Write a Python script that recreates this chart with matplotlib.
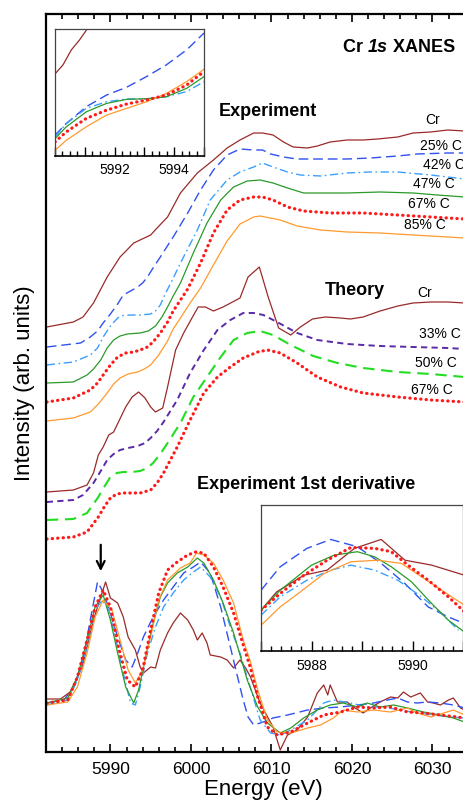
import numpy as np
import matplotlib
matplotlib.use("Agg")
import matplotlib.pyplot as plt
from matplotlib.ticker import MultipleLocator

plt.rcParams['font.family'] = ['Liberation Sans', 'DejaVu Sans']

# ---------------- data ----------------
# XANES, experiment (offset stack)
exp_cr_e = [5982.1, 5985.4, 5986.6, 5987.9, 5989.6, 5991.2, 5992.9, 5995.0, 5995.8, 5997.1, 5998.7, 6000.8,
            6002.8, 6004.5, 6006.1, 6007.8, 6008.9, 6010.2, 6011.5, 6012.7, 6014.5, 6015.7, 6017.3, 6019.4,
            6021.4, 6023.2, 6025.7, 6027.6, 6029.8, 6031.9, 6034.0]
exp_cr_i = [4.25, 4.30, 4.35, 4.49, 4.75, 4.95, 5.09, 5.17, 5.24, 5.35, 5.59, 5.79, 5.92, 6.04, 6.12, 6.19,
            6.19, 6.17, 6.10, 6.05, 6.04, 6.06, 6.10, 6.12, 6.12, 6.13, 6.15, 6.19, 6.20, 6.22, 6.21]

exp_25_e = [5982.1, 5986.3, 5987.5, 5988.4, 5989.1, 5990.0, 5990.9, 5991.6, 5992.5, 5993.4, 5994.0, 5994.6,
            5995.3, 5996.2, 5997.8, 5999.6, 6001.2, 6002.8, 6004.5, 6006.1, 6007.8, 6008.9, 6009.9, 6011.5,
            6013.2, 6015.7, 6019.4, 6022.3, 6025.7, 6028.1, 6031.9, 6034.0]
exp_25_i = [4.05, 4.09, 4.15, 4.21, 4.29, 4.38, 4.48, 4.57, 4.61, 4.65, 4.69, 4.75, 4.84, 4.95, 5.15, 5.39,
            5.62, 5.82, 5.97, 6.03, 6.02, 6.02, 5.98, 5.95, 5.93, 5.93, 5.93, 5.94, 5.96, 5.98, 5.99, 5.99]

exp_42_e = [5982.1, 5985.4, 5987.5, 5988.4, 5989.1, 5990.0, 5990.9, 5991.6, 5992.5, 5993.7, 5995.0, 5995.6,
            5996.2, 5996.8, 5997.7, 5998.7, 6000.8, 6002.4, 6004.5, 6006.1, 6007.8, 6008.9, 6010.2, 6012.0,
            6013.6, 6016.1, 6019.4, 6022.3, 6025.7, 6029.8, 6034.0]
exp_42_i = [3.87, 3.90, 3.97, 4.04, 4.15, 4.26, 4.34, 4.365, 4.37, 4.37, 4.38, 4.41, 4.47, 4.58, 4.72, 4.89,
            5.22, 5.52, 5.72, 5.80, 5.85, 5.89, 5.85, 5.80, 5.77, 5.76, 5.79, 5.80, 5.80, 5.77, 5.73]

exp_47_e = [5982.1, 5985.4, 5987.1, 5987.9, 5988.8, 5989.6, 5990.4, 5991.2, 5992.1, 5993.7, 5994.7, 5995.6,
            5996.4, 5997.1, 5997.8, 5998.7, 6000.3, 6002.0, 6003.7, 6005.3, 6007.0, 6008.6, 6010.2, 6012.0,
            6014.0, 6016.5, 6019.4, 6023.5, 6027.6, 6030.6, 6034.0]
exp_47_i = [3.69, 3.70, 3.77, 3.83, 3.92, 4.04, 4.12, 4.16, 4.18, 4.19, 4.21, 4.26, 4.35, 4.45, 4.56, 4.69,
            4.99, 5.29, 5.52, 5.65, 5.71, 5.72, 5.69, 5.64, 5.59, 5.59, 5.59, 5.60, 5.59, 5.57, 5.55]

exp_67_e = [5982.1, 5985.4, 5987.5, 5988.4, 5989.1, 5990.0, 5990.9, 5991.9, 5992.9, 5993.7, 5994.6, 5995.3,
            5996.2, 5997.1, 5997.8, 5998.7, 5999.6, 6001.2, 6002.8, 6004.5, 6006.1, 6007.8, 6008.9, 6010.2,
            6012.0, 6014.0, 6017.3, 6021.4, 6025.7, 6029.8, 6034.0]
exp_67_i = [3.50, 3.54, 3.62, 3.69, 3.77, 3.87, 3.95, 3.99, 4.00, 4.02, 4.05, 4.10, 4.19, 4.30, 4.41, 4.52,
            4.63, 4.89, 5.19, 5.42, 5.52, 5.55, 5.55, 5.52, 5.45, 5.41, 5.39, 5.39, 5.37, 5.35, 5.33]

exp_85_e = [5982.1, 5985.4, 5987.5, 5988.5, 5989.6, 5990.4, 5991.2, 5992.2, 5993.4, 5994.2, 5995.0, 5996.0,
            5997.1, 5997.8, 5998.7, 5999.9, 6001.2, 6002.8, 6004.5, 6006.1, 6007.8, 6008.6, 6011.1, 6013.2,
            6016.1, 6019.4, 6023.5, 6027.6, 6031.9, 6034.0]
exp_85_i = [3.31, 3.34, 3.40, 3.48, 3.59, 3.68, 3.74, 3.78, 3.80, 3.83, 3.87, 3.97, 4.11, 4.23, 4.34, 4.49,
            4.64, 4.87, 5.11, 5.28, 5.35, 5.36, 5.32, 5.26, 5.22, 5.20, 5.19, 5.17, 5.15, 5.14]

# XANES, theory
th_cr_e = [5982.1, 5985.4, 5987.1, 5987.9, 5988.5, 5989.1, 5989.8, 5990.4, 5991.0, 5991.9, 5992.7, 5993.5,
           5994.3, 5995.0, 5995.6, 5996.5, 5997.1, 5998.1, 5999.1, 6000.2, 6000.9, 6001.8, 6002.8, 6004.0,
           6006.1, 6007.1, 6008.5, 6009.6, 6010.9, 6012.4, 6013.6, 6015.1, 6016.7, 6018.6, 6019.8, 6021.4,
           6023.5, 6025.7, 6027.6, 6029.8, 6031.9, 6034.0]
th_cr_i = [2.60, 2.62, 2.67, 2.79, 2.97, 3.05, 3.17, 3.20, 3.30, 3.45, 3.55, 3.60, 3.54, 3.45, 3.40, 3.44,
           3.65, 4.02, 4.19, 4.35, 4.45, 4.45, 4.41, 4.45, 4.54, 4.75, 4.85, 4.55, 4.24, 4.17, 4.25, 4.33,
           4.35, 4.34, 4.33, 4.35, 4.41, 4.46, 4.49, 4.50, 4.50, 4.49]

th_33_e = [5982.1, 5985.4, 5986.6, 5987.9, 5988.8, 5989.6, 5990.4, 5991.2, 5992.2, 5993.4, 5994.3, 5995.0,
           5995.8, 5996.6, 5998.3, 5999.9, 6001.6, 6003.3, 6004.9, 6006.5, 6007.8, 6009.0, 6010.7, 6013.2,
           6015.7, 6019.4, 6023.5, 6027.6, 6031.9, 6034.0]
th_33_i = [2.50, 2.52, 2.57, 2.69, 2.81, 2.92, 2.98, 3.02, 3.04, 3.06, 3.09, 3.14, 3.21, 3.30, 3.52, 3.79,
           4.02, 4.22, 4.32, 4.39, 4.39, 4.37, 4.30, 4.19, 4.12, 4.08, 4.06, 4.05, 4.04, 4.03]

th_50_e = [5982.1, 5985.4, 5987.1, 5988.5, 5989.3, 5990.0, 5990.8, 5991.6, 5992.6, 5993.7, 5994.6, 5995.3,
           5996.2, 5997.1, 5998.7, 6000.3, 6002.0, 6003.7, 6005.3, 6007.0, 6008.6, 6010.2, 6012.4, 6015.2,
           6018.2, 6021.4, 6025.7, 6029.8, 6034.0]
th_50_i = [2.32, 2.33, 2.39, 2.55, 2.66, 2.75, 2.79, 2.80, 2.80, 2.81, 2.84, 2.89, 2.98, 3.09, 3.29, 3.55,
           3.75, 3.95, 4.12, 4.19, 4.21, 4.17, 4.07, 3.96, 3.89, 3.84, 3.80, 3.78, 3.75]

th_67_e = [5982.1, 5985.4, 5987.1, 5988.5, 5989.3, 5990.0, 5990.8, 5991.6, 5992.6, 5993.7, 5995.0, 5995.8,
           5996.6, 5998.3, 5999.9, 6001.6, 6003.3, 6004.9, 6006.5, 6008.3, 6009.5, 6011.1, 6013.2, 6015.7,
           6018.6, 6021.4, 6025.7, 6029.8, 6034.0]
th_67_i = [2.13, 2.15, 2.20, 2.35, 2.46, 2.54, 2.58, 2.59, 2.59, 2.59, 2.62, 2.69, 2.79, 3.05, 3.32, 3.59,
           3.75, 3.85, 3.94, 4.00, 4.02, 3.99, 3.89, 3.75, 3.65, 3.59, 3.55, 3.52, 3.50]

# first derivative, experiment
d_cr_e = [5982.1, 5983.8, 5985.0, 5985.9, 5986.5, 5987.1, 5987.9, 5988.8, 5989.4, 5990.0, 5990.9, 5991.6,
          5992.2, 5993.1, 5993.7, 5994.1, 5995.0, 5995.6, 5996.2, 5997.1, 5997.8, 5998.7, 5999.6, 6000.3,
          6000.8, 6001.4, 6002.0, 6002.4, 6003.7, 6004.5, 6005.3, 6006.1, 6006.8, 6007.4, 6008.6, 6010.2,
          6011.1, 6012.0, 6013.2, 6014.5, 6015.7, 6016.5, 6017.0, 6017.3, 6018.2, 6019.4, 6020.2, 6021.4,
          6022.3, 6023.5, 6024.8, 6025.7, 6026.4, 6027.3, 6028.5, 6029.4, 6030.1, 6031.0, 6032.0, 6032.6,
          6033.5, 6034.0]
d_cr_i = [0.53, 0.53, 0.60, 0.75, 0.85, 1.05, 1.32, 1.55, 1.70, 1.54, 1.49, 1.35, 1.15, 1.02, 0.85, 0.79,
          0.85, 0.84, 1.02, 1.19, 1.29, 1.39, 1.32, 1.22, 1.12, 1.19, 1.09, 0.97, 0.95, 0.92, 0.84, 0.92,
          0.84, 0.75, 0.49, 0.25, 0.02, 0.17, 0.22, 0.35, 0.59, 0.67, 0.57, 0.67, 0.50, 0.50, 0.45, 0.39,
          0.44, 0.50, 0.55, 0.54, 0.60, 0.55, 0.59, 0.50, 0.49, 0.47, 0.52, 0.54, 0.44, 0.42]

d_25_e = [5982.1, 5984.2, 5985.4, 5986.6, 5987.5, 5988.4, 5989.1, 5990.0, 5990.9, 5991.9, 5992.7, 5993.4,
          5994.1, 5995.3, 5996.6, 5997.8, 5999.1, 6000.3, 6001.2, 6002.4, 6003.7, 6004.9, 6006.1, 6006.5,
          6007.1, 6007.8, 6009.0, 6010.2, 6012.0, 6014.5, 6016.5, 6018.6, 6020.7, 6022.7, 6024.4, 6025.7,
          6026.9, 6028.1, 6029.4, 6031.0, 6032.6, 6034.0]
d_25_i = [0.49, 0.52, 0.64, 0.92, 1.32, 1.70, 1.60, 1.39, 1.15, 0.92, 0.85, 0.99, 1.15, 1.35, 1.52, 1.65,
          1.79, 1.85, 1.90, 1.79, 1.45, 1.05, 0.65, 0.52, 0.35, 0.27, 0.30, 0.34, 0.37, 0.42, 0.44, 0.45,
          0.47, 0.49, 0.52, 0.54, 0.50, 0.49, 0.50, 0.49, 0.47, 0.44]

d_42_e = [5982.1, 5984.7, 5985.9, 5987.1, 5988.1, 5989.0, 5989.8, 5990.6, 5991.6, 5992.5, 5993.1, 5993.7,
          5994.6, 5995.6, 5996.6, 5997.8, 5999.1, 6000.3, 6001.2, 6002.4, 6003.7, 6004.9, 6006.1, 6007.4,
          6008.6, 6009.9, 6011.1, 6012.4, 6014.5, 6016.5, 6017.7, 6019.8, 6021.9, 6023.9, 6026.0, 6028.1,
          6030.1, 6032.2, 6034.0]
d_42_i = [0.47, 0.52, 0.72, 1.05, 1.42, 1.52, 1.42, 1.15, 0.79, 0.49, 0.47, 0.65, 0.99, 1.25, 1.45, 1.59,
          1.72, 1.80, 1.85, 1.75, 1.55, 1.25, 0.99, 0.64, 0.32, 0.19, 0.17, 0.22, 0.32, 0.49, 0.52, 0.49,
          0.45, 0.45, 0.42, 0.39, 0.37, 0.35, 0.34]

d_47_e = [5982.1, 5984.7, 5985.9, 5987.1, 5988.1, 5989.1, 5990.0, 5990.9, 5991.9, 5992.9, 5993.5, 5994.3,
          5995.2, 5996.2, 5997.1, 5998.3, 5999.6, 6000.8, 6001.6, 6002.8, 6004.0, 6005.3, 6006.1, 6007.0,
          6008.3, 6009.5, 6011.1, 6012.4, 6014.0, 6015.7, 6017.3, 6018.9, 6020.7, 6021.9, 6023.5, 6025.2,
          6026.9, 6028.9, 6031.0, 6032.6, 6034.0]
d_47_i = [0.49, 0.54, 0.75, 1.12, 1.45, 1.57, 1.32, 0.99, 0.65, 0.49, 0.62, 0.92, 1.25, 1.55, 1.69, 1.79,
          1.85, 1.94, 1.89, 1.72, 1.49, 1.19, 0.97, 0.72, 0.45, 0.29, 0.19, 0.24, 0.34, 0.42, 0.47, 0.49,
          0.45, 0.49, 0.45, 0.47, 0.44, 0.40, 0.37, 0.34, 0.30]

d_67_e = [5982.1, 5984.7, 5985.9, 5987.1, 5988.1, 5989.1, 5990.0, 5991.0, 5992.1, 5993.1, 5994.0, 5995.0,
          5996.0, 5997.1, 5998.3, 5999.6, 6000.6, 6001.6, 6002.8, 6004.0, 6005.3, 6006.5, 6007.4, 6008.3,
          6009.5, 6010.7, 6012.4, 6014.5, 6016.5, 6018.6, 6020.7, 6022.7, 6024.8, 6026.9, 6028.9, 6031.0,
          6033.1, 6034.0]
d_67_i = [0.49, 0.52, 0.75, 1.12, 1.45, 1.62, 1.45, 1.05, 0.72, 0.65, 0.82, 1.22, 1.59, 1.82, 1.90, 1.97,
          2.00, 1.99, 1.85, 1.65, 1.39, 1.07, 0.84, 0.55, 0.25, 0.17, 0.20, 0.29, 0.37, 0.40, 0.45, 0.44,
          0.45, 0.40, 0.39, 0.37, 0.35, 0.34]

d_85_e = [5982.1, 5984.7, 5985.9, 5987.1, 5988.1, 5989.1, 5990.2, 5991.2, 5992.2, 5993.1, 5994.0, 5995.0,
          5996.0, 5997.1, 5998.7, 5999.9, 6000.7, 6001.6, 6002.8, 6004.0, 6005.3, 6006.5, 6007.4, 6008.3,
          6009.5, 6010.7, 6012.4, 6014.5, 6016.1, 6017.7, 6018.9, 6020.7, 6022.7, 6024.8, 6026.9, 6028.1,
          6029.8, 6031.4, 6032.6, 6034.0]
d_85_i = [0.47, 0.50, 0.65, 0.99, 1.35, 1.52, 1.42, 1.12, 0.82, 0.69, 0.82, 1.15, 1.52, 1.72, 1.84, 1.89,
          1.99, 1.97, 1.89, 1.72, 1.49, 1.12, 0.90, 0.62, 0.32, 0.20, 0.19, 0.24, 0.27, 0.34, 0.42, 0.40,
          0.42, 0.40, 0.44, 0.39, 0.35, 0.39, 0.42, 0.37]

# inset 1: pre-edge XANES (normalised, no offset)
in1_e = [5990.0, 5990.38, 5991.05, 5991.73, 5992.4, 5993.07, 5993.74, 5994.42, 5995.0]
in1_cr_e = [5990.0, 5990.27, 5990.55, 5990.83, 5991.08]
in1_cr = [0.646, 0.718, 0.836, 0.916, 1.0]
in1_25 = [0.164, 0.256, 0.388, 0.480, 0.541, 0.625, 0.718, 0.836, 0.968]
in1_42 = [0.150, 0.256, 0.375, 0.427, 0.449, 0.449, 0.467, 0.507, 0.586]
in1_47 = [0.137, 0.230, 0.348, 0.414, 0.446, 0.451, 0.467, 0.533, 0.625]
in1_67 = [0.111, 0.190, 0.296, 0.361, 0.409, 0.441, 0.480, 0.559, 0.665]
in1_85 = [0.045, 0.124, 0.230, 0.322, 0.375, 0.427, 0.493, 0.586, 0.683]

# inset 2: derivative around the first peak
in2_25_e = [5987.0, 5987.38, 5987.91, 5988.38, 5988.91, 5989.38, 5989.85, 5990.31, 5990.71, 5991.03]
in2_25 = [0.416, 0.577, 0.703, 0.764, 0.714, 0.600, 0.462, 0.302, 0.233, 0.188]
in2_42_e = [5987.0, 5987.38, 5987.91, 5988.38, 5988.78, 5989.25, 5989.71, 5990.18, 5990.58, 5990.91]
in2_42 = [0.245, 0.371, 0.485, 0.554, 0.588, 0.554, 0.485, 0.371, 0.256, 0.142]
in2_47_e = [5987.0, 5987.38, 5988.0, 5988.45, 5988.91, 5989.25, 5989.58, 5989.98, 5990.38, 5990.71, 5991.03]
in2_47 = [0.279, 0.416, 0.588, 0.657, 0.680, 0.645, 0.577, 0.474, 0.325, 0.211, 0.130]
in2_67_e = [5987.0, 5987.38, 5987.85, 5988.31, 5988.78, 5989.25, 5989.58, 5989.91, 5990.31, 5990.71, 5991.03]
in2_67 = [0.279, 0.394, 0.519, 0.622, 0.709, 0.703, 0.680, 0.588, 0.485, 0.371, 0.268]
in2_85_e = [5987.0, 5987.38, 5987.78, 5988.25, 5988.78, 5989.31, 5989.78, 5990.18, 5990.58, 5991.03]
in2_85 = [0.176, 0.302, 0.405, 0.531, 0.611, 0.622, 0.600, 0.508, 0.416, 0.313]
in2_cr_e = [5987.0, 5987.31, 5987.85, 5988.31, 5988.85, 5989.38, 5989.85, 5990.38, 5991.03]
in2_cr = [0.279, 0.405, 0.519, 0.554, 0.703, 0.764, 0.622, 0.588, 0.519]

exp_labels = ["Cr", "25% C", "42% C", "47% C", "67% C", "85% C"]
exp_label_pos = [(6030.0, 6.32), (6031.1, 6.06), (6031.4, 5.87), (6030.2, 5.68), (6029.6, 5.48), (6029.1, 5.27)]
th_labels = ["Cr", "33% C", "50% C", "67% C"]
th_label_pos = [(6029.0, 4.59), (6030.9, 4.18), (6030.4, 3.89), (6029.9, 3.62)]

# ---------------- styles ----------------
BROWN = '#9a2a2a'
BLUE = '#2f52f0'
LBLUE = '#3aa0ff'
GREEN = '#2a9a2a'
RED = '#ff1a1a'
ORANGE = '#ff9a2e'
INDIGO = '#5a2aa8'
LGREEN = '#22dd22'

sty = {
    'cr': dict(color=BROWN, lw=0.9),
    '25': dict(color=BLUE, lw=1.0, dashes=(7, 3.5)),
    '42': dict(color=LBLUE, lw=1.0, dashes=(6, 2.5, 1.2, 2.5)),
    '47': dict(color=GREEN, lw=0.9),
    '67': dict(color=RED, lw=2.3, dashes=(0.1, 1.6), dash_capstyle='round'),
    '85': dict(color=ORANGE, lw=0.9),
    't33': dict(color=INDIGO, lw=1.4, dashes=(3.2, 2.2)),
    't50': dict(color=LGREEN, lw=1.5, dashes=(5.5, 3.2)),
}

W, H = 464, 811
fig = plt.figure(figsize=(W / 100, H / 100), dpi=100)
ax = fig.add_axes([46 / W, (H - 752) / H, 434.7 / W, 738 / H])

for e, i, k in [(exp_cr_e, exp_cr_i, 'cr'), (exp_25_e, exp_25_i, '25'), (exp_42_e, exp_42_i, '42'),
                (exp_47_e, exp_47_i, '47'), (exp_67_e, exp_67_i, '67'), (exp_85_e, exp_85_i, '85'),
                (th_cr_e, th_cr_i, 'cr'), (th_33_e, th_33_i, 't33'), (th_50_e, th_50_i, 't50'),
                (th_67_e, th_67_i, '67'),
                (d_cr_e, d_cr_i, 'cr'), (d_25_e, d_25_i, '25'), (d_42_e, d_42_i, '42'),
                (d_47_e, d_47_i, '47'), (d_85_e, d_85_i, '85'), (d_67_e, d_67_i, '67')]:
    ax.plot(e, i, **sty[k])

ax.set_xlim(5982, 6036)
ax.set_ylim(0, 7.38)
ax.set_yticks([])
ax.xaxis.set_major_locator(MultipleLocator(10))
ax.xaxis.set_minor_locator(MultipleLocator(2))
ax.tick_params(axis='x', which='both', direction='in', top=True, width=1.2, labelsize=12.5, pad=7)
ax.tick_params(axis='x', which='major', length=6)
ax.tick_params(axis='x', which='minor', length=3.5)
for s in ax.spines.values():
    s.set_linewidth(1.6)
ax.set_xlabel("Energy (eV)", fontsize=16, labelpad=2)
ax.set_ylabel("Intensity (arb. units)", fontsize=16, labelpad=8)

for lab, (x, y) in zip(exp_labels, exp_label_pos):
    ax.text(x, y, lab, fontsize=10, ha='center', va='center')
for lab, (x, y) in zip(th_labels, th_label_pos):
    ax.text(x, y, lab, fontsize=10, ha='center', va='center')

bold = dict(fontsize=13, fontweight='bold')
t1 = ax.text(6018.9, 7.04, "Cr ", ha='left', va='center', **bold)
t2 = ax.annotate("1s", xy=(1, 0), xycoords=t1, ha='left', va='bottom', fontstyle='italic', **bold)
ax.annotate(" XANES", xy=(1, 0), xycoords=t2, ha='left', va='bottom', **bold)
ax.text(6009.6, 6.40, "Experiment", ha='center', va='center', **bold)
ax.text(6020.4, 4.61, "Theory", ha='center', va='center', **bold)
ax.text(6014.3, 2.67, "Experiment 1st derivative", ha='center', va='center', **bold)

ax.annotate("", xy=(5988.8, 1.78), xytext=(5988.8, 2.10),
            arrowprops=dict(arrowstyle='->', color='black', lw=1.6, mutation_scale=14))

# inset 1
a1 = fig.add_axes([55 / W, (H - 156) / H, 149 / W, 127 / H])
a1.plot(in1_cr_e, in1_cr, **sty['cr'])
a1.plot(in1_e, in1_25, **sty['25'])
a1.plot(in1_e, in1_42, **sty['42'])
a1.plot(in1_e, in1_47, **sty['47'])
a1.plot(in1_e, in1_85, **sty['85'])
a1.plot(in1_e, in1_67, **sty['67'])
a1.set_xlim(5990, 5995)
a1.set_ylim(0, 1)
a1.set_yticks([])
a1.set_xticks([5990, 5991, 5992, 5993, 5994, 5995])
a1.set_xticklabels(['', '', '5992', '', '5994', ''])
a1.xaxis.set_minor_locator(MultipleLocator(0.25))
a1.tick_params(axis='x', which='both', direction='in', labelsize=10, width=1.0, pad=5)
a1.tick_params(axis='x', which='major', length=6.5)
a1.tick_params(axis='x', which='minor', length=3.5)
for s in a1.spines.values():
    s.set_linewidth(0.9)
    s.set_color('#444444')
a1.spines['bottom'].set_color('black')
a1.spines['bottom'].set_linewidth(1.2)

# inset 2
a2 = fig.add_axes([261 / W, (H - 651) / H, 202 / W, 146 / H])
a2.plot(in2_cr_e, in2_cr, **sty['cr'])
a2.plot(in2_25_e, in2_25, **sty['25'])
a2.plot(in2_42_e, in2_42, **sty['42'])
a2.plot(in2_47_e, in2_47, **sty['47'])
a2.plot(in2_85_e, in2_85, **sty['85'])
a2.plot(in2_67_e, in2_67, **sty['67'])
a2.set_xlim(5987, 5991)
a2.set_ylim(0, 1)
a2.set_yticks([])
a2.set_xticks([5987, 5988, 5989, 5990, 5991])
a2.set_xticklabels(['', '5988', '', '5990', ''])
a2.xaxis.set_minor_locator(MultipleLocator(0.2))
a2.tick_params(axis='x', which='both', direction='in', labelsize=10, width=1.0, pad=6)
a2.tick_params(axis='x', which='major', length=7)
a2.tick_params(axis='x', which='minor', length=3.5)
for s in a2.spines.values():
    s.set_linewidth(0.9)
    s.set_color('#444444')
a2.spines['bottom'].set_color('black')
a2.spines['bottom'].set_linewidth(1.2)

fig.savefig("out.png", dpi=100)
